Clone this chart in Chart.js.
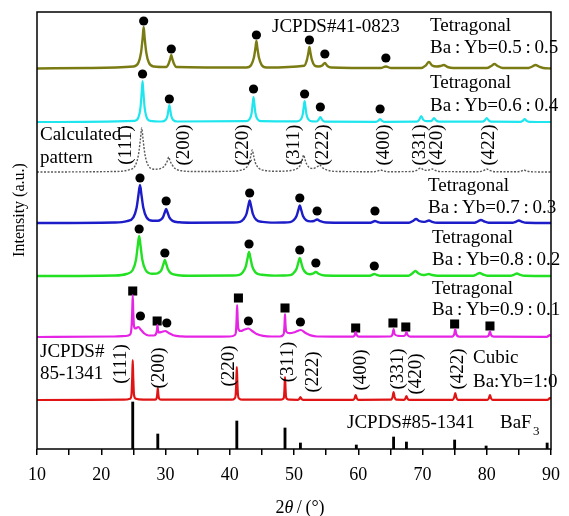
<!DOCTYPE html>
<html>
<head>
<meta charset="utf-8">
<script src="https://cdn.jsdelivr.net/npm/chart.js@4.4.1/dist/chart.umd.min.js"></script>
<style>
  html, body { margin: 0; padding: 0; background: #fff; }
  canvas { display: block; }
</style>
</head>
<body>
<canvas id="xrd" width="569" height="516"></canvas>
<script>
// scans: [2θ, intensity above the pattern's own baseline]
const scan05 = [[10,0.5],[18,1],
  [25.0,2.5],[25.8,6.5],[26.2,16.8],[26.45,31.5],[26.6,42],[26.75,31.5],[27.0,16.8],[27.4,6.5],[28.2,2.5],
  [30.1,2],[30.5,5.6],[30.75,10.5],[30.9,14],[31.05,10.5],[31.3,5.6],[31.7,2],
  [42.6,1.5],[43.35,4.2],[43.75,11.2],[44.0,21],[44.15,28],[44.3,21],[44.55,11.2],[44.95,4.2],[45.7,1.5],
  [51.6,3.3],[52.0,8.8],[52.25,16.5],[52.4,22],[52.55,16.5],[52.8,8.8],[53.2,3.5],[53.8,2.5],[54.4,3.5],[54.8,6],[55.2,3],[55.8,1.5],
  [63.5,1],[64.3,2.5],[65.1,1],
  [69.8,1],[70.5,3.5],[71.0,7],[71.5,3.5],[72.2,2.5],[72.8,3],[73.3,4],[73.9,2],[74.8,1],
  [80.0,1],[80.7,3],[81.2,5],[81.7,3],[82.5,1],
  [86.5,1],[87.1,2.5],[87.6,4],[88.1,2.5],[88.8,1],[90,0.5]];

const scan06 = [[10,0],[25.2,1.2],[25.8,4.9],[26.1,14],[26.31,30.8],[26.43,41],[26.55,30.8],[26.76,14],[27.05,4.9],[27.6,1.2],
  [29.4,0.5],[30.0,2],[30.3,6],[30.48,12.8],[30.6,17],[30.72,12.8],[30.9,6],[31.2,2],[31.8,0.5],
  [42.5,0.8],[43.1,3],[43.4,8.8],[43.58,18.8],[43.7,25],[43.82,18.8],[44.0,8.8],[44.3,3],[44.9,0.8],
  [50.45,0.6],[51.05,2.5],[51.35,7.4],[51.53,15.8],[51.65,21],[51.77,15.8],[51.95,7.4],[52.25,2.5],[52.85,0.6],
  [53.5,0.5],[53.8,2],[54.1,5],[54.4,2],[54.8,0.3],
  [62.8,0.2],[63.1,1.2],[63.4,3],[63.7,1.2],[64.0,0.2],
  [69.1,0.3],[69.5,2.4],[69.8,6],[70.1,2.4],[70.6,0.8],[71.3,0.9],[71.5,1.6],[71.8,4],[72.1,1.6],[72.6,0.3],
  [79.3,0.3],[79.7,1.6],[80.0,4],[80.3,1.6],[80.7,0.3],
  [85.2,0.2],[85.6,1.2],[85.9,3],[86.2,1.2],[86.6,0.2],[90,0]];

const scanCalc = [[10,0],[22,0.5],[24.3,2.2],[25.3,6.6],[25.8,17.6],[26.1,33],[26.3,44],[26.5,33],[26.8,17.6],[27.3,6.6],[28.3,2.8],
  [29.0,3],[29.5,4.2],[30.0,7.5],[30.3,11.3],[30.5,15],[30.7,11.3],[31.0,7.5],[31.5,3.5],[32.5,1.2],[34.5,0.5],
  [40.5,0.7],[41.5,1.5],[42.5,4],[43.0,9],[43.3,16.5],[43.5,22],[43.7,16.5],[44.0,9],[44.5,4],[45.5,1.5],[47.5,0.7],
  [48.5,0.9],[49.5,1.5],[50.5,3.5],[51.0,7],[51.3,12.8],[51.5,17],[51.7,12.8],[52.0,7.5],[52.5,4],[53.0,3.5],[53.5,4.8],[53.8,6],[54.0,7],[54.2,6],[54.6,3.5],[55.2,1.8],[56.5,0.6],
  [62.5,0.3],[63.0,1],[63.5,2],[64.0,1],[64.6,0.3],
  [68.5,0.5],[69.2,2],[69.7,4],[70.2,2],[70.8,1.6],[71.0,2],[71.5,3],[72.0,1.6],[72.8,0.4],
  [78.8,0.3],[79.5,1.5],[80.0,3],[80.5,1.5],[81.2,0.3],
  [84.8,0.2],[85.4,1],[85.8,2],[86.2,1],[86.9,0.2],[90,0]];

const scan07 = [[10,0],[22,0.5],[24.0,1.9],[25.0,5.7],[25.5,15.2],[25.8,28.5],[26.03,38],[26.25,28.5],[26.55,15.2],[27.05,5.7],[28.0,2.2],
  [28.8,2.2],[29.3,3.5],[29.6,5.6],[29.88,10.5],[30.1,14],[30.32,10.5],[30.6,5.6],[31.1,2.1],[32.2,0.7],[34,0.3],
  [40.5,0.5],[41.6,1.1],[42.1,3.4],[42.6,9],[42.88,16.9],[43.1,22.5],[43.32,16.9],[43.6,9],[44.1,3.4],[45.1,1.1],[47,0.4],
  [48.3,0.5],[49.4,0.9],[49.9,2.6],[50.4,7],[50.68,13.1],[50.9,17.5],[51.12,13.1],[51.4,7],[51.9,2.8],[52.6,1.6],[53.1,2],[53.6,3.5],[54.1,1.8],[55.0,0.5],
  [61.8,0.2],[62.2,1],[62.6,2],[63.0,1],[63.5,0.2],
  [67.9,0.3],[68.5,2],[69.0,4],[69.5,2],[70.2,1.1],[70.5,1.4],[71.0,2.5],[71.5,1.2],[72.3,0.3],
  [78.1,0.3],[78.6,1.5],[79.1,3],[79.6,1.5],[80.3,0.3],
  [84.0,0.2],[84.5,1.2],[85.0,2.5],[85.5,1.2],[86.2,0.2],[90,0]];

const scan08 = [[10,0],[22,0.5],[23.9,2],[24.9,6],[25.4,16],[25.68,30],[25.9,40],[26.12,30],[26.4,16],[26.9,6],[27.9,2.3],
  [28.6,2.4],[29.1,4],[29.4,6.4],[29.68,12],[29.9,16],[30.12,12],[30.4,6.4],[30.9,2.4],[32.0,0.8],[34,0.3],
  [40.4,0.5],[41.5,1.2],[42.0,3.6],[42.5,9.6],[42.78,18],[43.0,24],[43.22,18],[43.5,9.6],[44.0,3.6],[45.0,1.2],[47,0.4],
  [48.3,0.5],[49.4,0.9],[49.9,2.7],[50.4,7.2],[50.68,13.5],[50.9,18],[51.12,13.5],[51.4,7.2],[51.9,2.9],[52.5,1.8],[52.9,2.3],[53.4,4],[53.9,2],[54.8,0.5],
  [61.7,0.2],[62.1,1],[62.5,2],[62.9,1],[63.4,0.2],
  [67.8,0.3],[68.4,2.5],[68.9,5],[69.4,2.5],[70.1,1],[70.5,1.2],[71.0,2],[71.5,1],[72.3,0.3],
  [77.9,0.3],[78.4,1.5],[78.9,3],[79.4,1.5],[80.1,0.3],
  [83.7,0.2],[84.2,1.2],[84.7,2.5],[85.2,1.2],[85.9,0.2],[90,0]];

const scan09 = [[10,0],[22,0.5],[23.8,1],[24.5,2.5],[24.7,9],[24.82,25],[24.9,42],[24.98,25],[25.1,11],[25.3,8.5],[25.77,10],[26.2,7],[26.7,3.5],[27.4,1.5],
  [28.2,1.5],[28.55,3.5],[28.67,7],[28.75,12],[28.83,7],[28.95,4.5],[29.4,5],[29.95,6],[30.5,4],[31.2,1.8],[32.5,0.6],[34,0.3],
  [40.0,0.5],[40.8,2],[40.98,6.5],[41.07,18],[41.15,32],[41.23,18],[41.35,8],[41.7,6],[42.3,7.5],[42.9,8.5],[43.5,6],[44.2,3],[45.2,1.2],[46.5,0.5],
  [47.8,0.5],[48.3,2],[48.45,5],[48.53,13],[48.6,23],[48.67,13],[48.8,5.5],[49.3,3.8],[50.2,5],[51.05,7],[51.8,4],[52.6,1.6],[53.6,0.5],
  [59.2,0.3],[59.45,2],[59.6,5],[59.75,2],[60.1,0.3],
  [65.0,0.5],[65.35,3],[65.5,8],[65.65,3],[66.2,1.2],[67.1,1],[67.35,2.2],[67.5,5],[67.65,2.2],[68.1,0.4],
  [74.6,0.4],[74.95,3],[75.1,8],[75.25,3],[75.7,0.4],
  [80.0,0.3],[80.35,2.3],[80.5,6],[80.65,2.3],[81.1,0.3],
  [89.3,0.2],[89.6,1],[89.75,2],[90,1]];

const scan10 = [[10,0],[23.5,0.3],[24.5,1.2],[24.7,5],[24.82,22],[24.9,40],[24.98,22],[25.1,5],[25.4,1.2],[26.5,0.3],
  [28.4,0.3],[28.62,1.8],[28.72,6],[28.8,12],[28.88,6],[28.98,1.8],[29.3,0.3],
  [40.3,0.3],[40.75,1.5],[40.92,5],[41.02,18],[41.1,33],[41.18,18],[41.28,5],[41.45,1.5],[42.0,0.3],
  [47.9,0.3],[48.3,1.2],[48.45,3.5],[48.53,12.5],[48.6,23],[48.67,12.5],[48.75,3.5],[48.9,1.2],[49.4,0.3],
  [50.6,0.2],[50.85,1.2],[51.0,3],[51.15,1.2],[51.4,0.2],
  [59.2,0.2],[59.45,2],[59.6,5],[59.75,2],[60.0,0.2],
  [65.1,0.3],[65.35,3],[65.5,8],[65.65,3],[65.9,0.3],
  [67.1,0.2],[67.35,1.6],[67.5,4],[67.65,1.6],[67.9,0.2],
  [74.7,0.2],[74.95,2.8],[75.1,7],[75.25,2.8],[75.5,0.2],
  [80.1,0.2],[80.35,2],[80.5,5],[80.65,2],[80.9,0.2],
  [89.4,0.2],[89.65,0.8],[89.8,2],[90,1.5]];

// JCPDS#85-1341 reference lines
const stick2t = [24.9, 28.8, 41.1, 48.6, 51.0, 59.7, 65.5, 67.5, 75.0, 79.9, 89.4];
const stickI  = [47, 15, 28, 21, 6, 4, 12, 7, 9, 3, 6];

// vertical offset of each pattern in the stack (0.5, 0.6, calc, 0.7, 0.8, 0.9, 1.0)
const offsets = [380, 327, 277, 226, 173, 112, 49];

// peak markers (absolute intensity in the stacked plot)
const dot2t = [26.6, 30.9, 44.15, 52.4, 54.8, 64.3,
               26.43, 30.6, 43.7, 51.65, 54.1, 63.4,
               26.03, 30.1, 43.1, 50.9, 53.6, 62.6,
               25.9, 29.9, 43.0, 50.9, 53.4, 62.5,
               26.1, 30.2, 42.9, 51.0];
const dotI  = [428, 400, 414, 409, 395, 391,
               375, 350, 360, 355, 342, 340,
               271, 248, 256, 251, 238, 238,
               220, 196, 205, 199, 186, 183,
               133, 126, 128, 127];
const sq2t = [24.9, 28.7, 41.35, 48.6, 59.6, 65.4, 67.4, 75.0, 80.5];
const sqI  = [158, 128, 151, 141, 121, 126, 122, 125, 123];

const serif = '"Liberation Serif", "Times New Roman", serif';

function trace(label, scan, off, color, width, dash) {
    return {
        type: 'line', label,
        data: scan.map(([x, y]) => ({ x, y: y + off })),
        borderColor: color, borderWidth: width, borderDash: dash || [],
        pointRadius: 0, cubicInterpolationMode: 'monotone', fill: false
    };
}

// text labels in canvas pixels
const colon = '\u2009:\u2009';
const texts = [
    ['JCPDS#41-0823', 272, 27], ['Tetragonal', 430, 26], ['Ba' + colon + 'Yb=0.5' + colon + '0.5', 430, 48],
    ['Tetragonal', 430, 83], ['Ba' + colon + 'Yb=0.6' + colon + '0.4', 430, 106],
    ['Calculated', 40, 135], ['pattern', 40, 158],
    ['Tetragonal', 428, 186], ['Ba' + colon + 'Yb=0.7' + colon + '0.3', 428, 208],
    ['Tetragonal', 432, 238], ['Ba' + colon + 'Yb=0.8' + colon + '0.2', 432, 260],
    ['Tetragonal', 432, 289], ['Ba' + colon + 'Yb=0.9' + colon + '0.1', 432, 310],
    ['JCPDS#', 40, 352], ['85-1341', 40, 374],
    ['Cubic', 473, 358], ['Ba:Yb=1:0', 473, 382],
    ['JCPDS#85-1341', 347, 423], ['BaF', 500, 423]
];
const hklCalc = [['(111)', 126.5], ['(200)', 184.5], ['(220)', 243], ['(311)', 294.5], ['(222)', 323.5],
                 ['(400)', 384.5], ['(331)', 420.5], ['(420)', 437.5], ['(422)', 489.5]];
const hklCubic = [['(111)', 121.5, 364], ['(200)', 159.5, 368], ['(220)', 229.5, 366], ['(311)', 288.5, 362],
                  ['(222)', 313.5, 372], ['(400)', 361.5, 370], ['(331)', 398.5, 369], ['(420)', 416.5, 374],
                  ['(422)', 458.5, 369]];

const decor = {
    id: 'decor',
    afterDraw(chart) {
        const ctx = chart.ctx, a = chart.chartArea;
        ctx.save();
        ctx.strokeStyle = '#000';
        ctx.lineWidth = 1.5;
        ctx.strokeRect(a.left, a.top, a.right - a.left, a.bottom - a.top);

        ctx.fillStyle = '#000';
        ctx.textBaseline = 'middle';
        ctx.textAlign = 'left';
        ctx.font = '19px ' + serif;
        texts.forEach(([s, x, y]) => ctx.fillText(s, x, y));
        ctx.font = '13px ' + serif;
        ctx.fillText('3', 533, 432);

        ctx.textAlign = 'center';
        ctx.font = '19px ' + serif;
        const rot = (s, x, y) => {
            ctx.save(); ctx.translate(x, y); ctx.rotate(-Math.PI / 2);
            ctx.fillText(s, 0, 0); ctx.restore();
        };
        hklCalc.forEach(([s, x]) => rot(s, x, 145));
        hklCubic.forEach(([s, x, y]) => rot(s, x, y));

        ctx.font = '16px ' + serif;
        rot('Intensity (a.u.)', 20, 210);

        // x title: 2θ/(°)
        ctx.textAlign = 'left';
        ctx.font = '18px ' + serif;
        const w2 = ctx.measureText('2').width;
        ctx.font = 'italic 18px ' + serif;
        const wt = ctx.measureText('\u03b8').width;
        ctx.font = '18px ' + serif;
        const wr = ctx.measureText('\u2009/\u2009(\u00b0)').width;
        const x0 = 300 - (w2 + wt + wr) / 2;
        ctx.fillText('2', x0, 508);
        ctx.font = 'italic 18px ' + serif;
        ctx.fillText('\u03b8', x0 + w2, 508);
        ctx.font = '18px ' + serif;
        ctx.fillText('\u2009/\u2009(\u00b0)', x0 + w2 + wt, 508);
        ctx.restore();
    }
};

new Chart(document.getElementById('xrd'), {
    type: 'line',
    data: {
        datasets: [
            trace('Ba:Yb=0.5:0.5', scan05, offsets[0], '#7b7b14', 2.4),
            trace('Ba:Yb=0.6:0.4', scan06, offsets[1], '#1fe6ee', 2.2),
            trace('Calculated pattern', scanCalc, offsets[2], '#5a5a5a', 1.4, [2, 1.5]),
            trace('Ba:Yb=0.7:0.3', scan07, offsets[3], '#1c1cc8', 2.4),
            trace('Ba:Yb=0.8:0.2', scan08, offsets[4], '#22e022', 2.4),
            trace('Ba:Yb=0.9:0.1', scan09, offsets[5], '#e524e5', 2.2),
            trace('Ba:Yb=1:0', scan10, offsets[6], '#e01414', 2.2),
            {
                type: 'bar', label: 'JCPDS#85-1341',
                data: stick2t.map((x, i) => ({ x, y: stickI[i] })),
                backgroundColor: '#000', barThickness: 2.2
            },
            {
                type: 'scatter', label: 'tetragonal peaks',
                data: dot2t.map((x, i) => ({ x, y: dotI[i] })),
                pointStyle: 'circle', pointRadius: 4.6, backgroundColor: '#000', borderWidth: 0
            },
            {
                type: 'scatter', label: 'cubic peaks',
                data: sq2t.map((x, i) => ({ x, y: sqI[i] })),
                pointStyle: 'rect', pointRadius: 6.4, backgroundColor: '#000', borderWidth: 0
            }
        ]
    },
    options: {
        responsive: false,
        animation: false,
        layout: { padding: { left: 37, right: 10, top: 12, bottom: 0 } },
        plugins: { legend: { display: false }, tooltip: { enabled: false } },
        scales: {
            x: {
                type: 'linear', min: 10, max: 90, offset: false,
                border: { display: false },
                grid: { display: true, drawOnChartArea: false, drawTicks: true, tickLength: 6, color: '#000', lineWidth: 1.5, offset: false },
                ticks: {
                    stepSize: 5, autoSkip: false, maxRotation: 0, padding: 9, color: '#000',
                    font: { family: serif, size: 18 },
                    callback: v => (v % 10 === 0 ? v : '')
                },
                afterFit: s => { s.height = 67; }
            },
            y: { type: 'linear', display: false, min: 0, max: 437 }
        }
    },
    plugins: [decor]
});
</script>
</body>
</html>
